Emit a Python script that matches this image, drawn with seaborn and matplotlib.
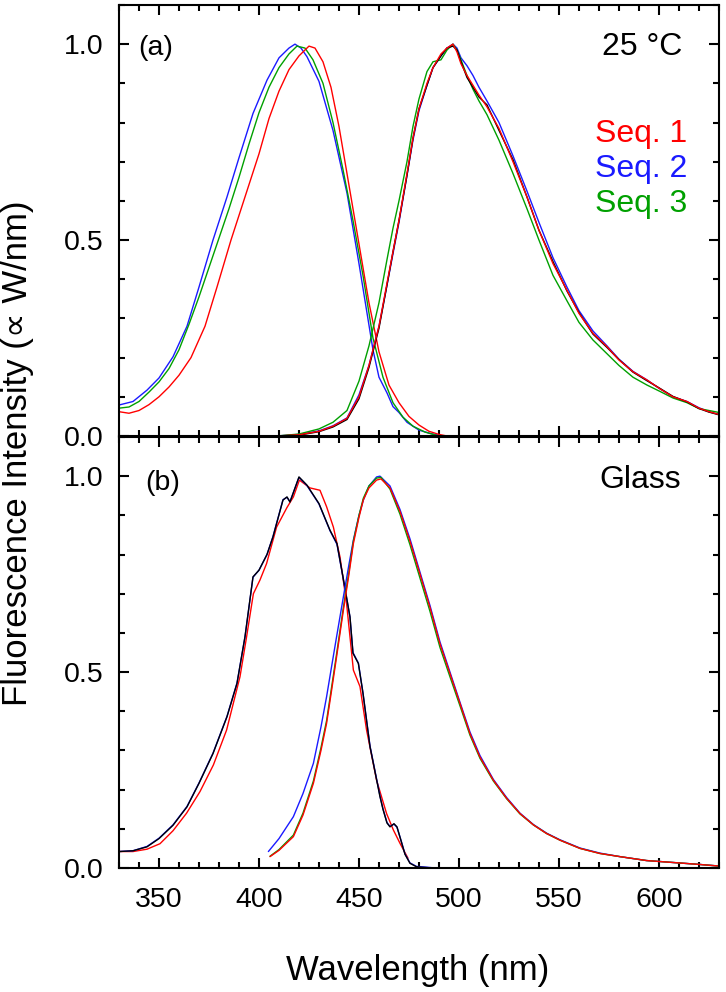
import matplotlib
matplotlib.use("Agg")
import matplotlib.pyplot as plt
import seaborn as sns
from matplotlib.ticker import MultipleLocator, FormatStrFormatter

sns.set_style("ticks", {'axes.edgecolor': 'black', 'text.color': 'black',
                        'xtick.color': 'black', 'ytick.color': 'black',
                        'axes.labelcolor': 'black'})
plt.rcParams['font.family'] = ['Liberation Sans', 'DejaVu Sans']

RED = '#ff0000'
BLUE = '#1a1aff'
GREEN = '#00a000'
BLACK = '#000000'

# ---- panel (a), 25 C : left band ----
wl_a_ex_blue = [330, 337, 344, 350, 357, 364, 370, 377, 384, 390, 397, 404, 410, 415, 418, 421, 424, 430, 437, 444, 450, 457, 460, 464, 467, 470, 474, 480, 486, 492]
a_ex_blue = [0.079, 0.088, 0.117, 0.148, 0.202, 0.28, 0.38, 0.50, 0.61, 0.71, 0.823, 0.908, 0.965, 0.99, 1.0, 0.99, 0.968, 0.905, 0.78, 0.62, 0.44, 0.22, 0.15, 0.11, 0.075, 0.06, 0.035, 0.015, 0.006, 0.0]

wl_a_ex_green = [330, 335, 340, 345, 350, 355, 360, 365, 370, 375, 380, 385, 390, 395, 400, 405, 410, 415, 419, 423, 427, 432, 437, 442, 447, 452, 457, 462, 467, 472, 477, 483, 490]
a_ex_green = [0.071, 0.074, 0.088, 0.112, 0.138, 0.172, 0.22, 0.285, 0.355, 0.43, 0.505, 0.58, 0.66, 0.745, 0.825, 0.89, 0.94, 0.975, 0.995, 0.99, 0.96, 0.90, 0.80, 0.68, 0.55, 0.41, 0.25, 0.15, 0.085, 0.048, 0.025, 0.01, 0.0]

wl_a_ex_red = [330, 335, 340, 345, 350, 355, 360, 366, 373, 379, 386, 393, 400, 405, 410, 415, 420, 425, 428, 432, 436, 440, 445, 450, 455, 460, 465, 470, 475, 480, 485, 490, 494]
a_ex_red = [0.062, 0.058, 0.065, 0.08, 0.10, 0.125, 0.155, 0.20, 0.28, 0.38, 0.50, 0.61, 0.72, 0.81, 0.88, 0.935, 0.97, 0.995, 0.99, 0.955, 0.89, 0.79, 0.64, 0.49, 0.34, 0.215, 0.13, 0.085, 0.05, 0.028, 0.012, 0.004, 0.0]

# ---- panel (a), 25 C : right band ----
wl_a_em = [409, 420, 430, 437, 444, 450, 455, 460, 464, 467, 470, 474, 477, 480, 484, 487, 491, 494, 497, 499, 501, 504, 507, 510, 514, 520, 527, 534, 540, 547, 554, 560, 567, 574, 580, 587, 594, 600, 607, 614, 620, 625, 630]
a_em_red = [0.0, 0.003, 0.012, 0.025, 0.045, 0.10, 0.18, 0.28, 0.39, 0.47, 0.55, 0.67, 0.76, 0.835, 0.90, 0.94, 0.975, 0.99, 1.0, 0.98, 0.95, 0.92, 0.895, 0.87, 0.84, 0.785, 0.70, 0.61, 0.525, 0.44, 0.372, 0.313, 0.262, 0.228, 0.194, 0.164, 0.143, 0.122, 0.10, 0.088, 0.071, 0.062, 0.055]
a_em_black = [0.0, 0.002, 0.011, 0.023, 0.042, 0.095, 0.175, 0.275, 0.385, 0.47, 0.55, 0.665, 0.76, 0.835, 0.895, 0.94, 0.97, 0.99, 0.995, 0.985, 0.955, 0.915, 0.89, 0.865, 0.845, 0.78, 0.705, 0.61, 0.525, 0.445, 0.37, 0.315, 0.26, 0.226, 0.195, 0.163, 0.141, 0.123, 0.101, 0.087, 0.07, 0.061, 0.054]
a_em_blue = [0.0, 0.004, 0.013, 0.026, 0.046, 0.105, 0.18, 0.28, 0.385, 0.465, 0.545, 0.665, 0.755, 0.83, 0.895, 0.94, 0.97, 0.99, 1.0, 0.99, 0.965, 0.945, 0.92, 0.89, 0.855, 0.80, 0.715, 0.625, 0.545, 0.455, 0.38, 0.32, 0.268, 0.23, 0.196, 0.165, 0.143, 0.122, 0.10, 0.088, 0.072, 0.062, 0.055]
a_em_green = [0.0, 0.005, 0.018, 0.035, 0.065, 0.14, 0.23, 0.34, 0.45, 0.53, 0.60, 0.70, 0.79, 0.86, 0.93, 0.955, 0.96, 0.985, 1.0, 0.985, 0.96, 0.92, 0.885, 0.855, 0.82, 0.755, 0.67, 0.58, 0.50, 0.41, 0.345, 0.29, 0.245, 0.21, 0.18, 0.15, 0.13, 0.115, 0.097, 0.085, 0.07, 0.065, 0.06]

# ---- panel (b), glass : left band ----
wl_b_ex_black = [330, 337, 344, 350, 357, 364, 370, 377, 384, 389, 393, 397, 400, 404, 407, 412, 414, 415.5, 420, 424, 430, 435.5, 439, 442, 445.5, 447, 449.7, 452, 455.5, 460.5, 462, 464, 465.5, 467.5, 469, 471, 473, 475.5, 478.8, 484, 488]
b_ex_black = [0.042, 0.044, 0.054, 0.075, 0.109, 0.156, 0.216, 0.292, 0.386, 0.471, 0.59, 0.743, 0.76, 0.80, 0.845, 0.939, 0.947, 0.934, 0.998, 0.977, 0.93, 0.862, 0.828, 0.743, 0.641, 0.548, 0.522, 0.446, 0.31, 0.182, 0.15, 0.115, 0.105, 0.113, 0.105, 0.07, 0.035, 0.012, 0.003, 0.001, 0.0]
b_ex_blue = [0.042, 0.044, 0.055, 0.076, 0.110, 0.157, 0.217, 0.293, 0.387, 0.472, 0.59, 0.742, 0.76, 0.80, 0.846, 0.94, 0.946, 0.935, 0.997, 0.976, 0.929, 0.861, 0.826, 0.742, 0.64, 0.55, 0.523, 0.447, 0.312, 0.184, 0.151, 0.116, 0.106, 0.112, 0.104, 0.071, 0.036, 0.013, 0.004, 0.002, 0.0]

wl_b_ex_red = [330, 337, 344, 350.5, 357, 363.8, 370.5, 377.2, 383.8, 390.5, 393.8, 397.2, 400.5, 403.8, 408.8, 414, 417.2, 420.2, 425.5, 430.5, 433.8, 437.2, 440.5, 443.8, 447.2, 450.5, 453.8, 458.8, 463.8, 467.2, 470.5, 474.5]
b_ex_red = [0.042, 0.042, 0.048, 0.062, 0.095, 0.14, 0.195, 0.263, 0.352, 0.488, 0.59, 0.70, 0.735, 0.777, 0.87, 0.92, 0.947, 0.99, 0.97, 0.964, 0.922, 0.87, 0.794, 0.675, 0.505, 0.463, 0.352, 0.224, 0.139, 0.097, 0.063, 0.025]

# ---- panel (b), glass : right band ----
wl_b_em_blue = [404.7, 410, 417.2, 422, 427.2, 431, 433.8, 436.5, 438.8, 442.2, 445, 447.2, 450, 452.2, 455, 458.8, 460.5, 465.5, 470.5, 475.5, 480.5, 485.5, 490.5, 495.5, 500.5, 505.5, 510.5, 517.2, 523.8, 530.5, 537.2, 543.8, 550.5, 560.5, 570.5, 580.5, 593.8, 607.2, 620.5, 630]
b_em_blue = [0.042, 0.075, 0.131, 0.19, 0.267, 0.36, 0.437, 0.52, 0.59, 0.692, 0.775, 0.837, 0.90, 0.939, 0.975, 0.998, 1.0, 0.975, 0.915, 0.84, 0.755, 0.67, 0.577, 0.50, 0.423, 0.347, 0.287, 0.226, 0.18, 0.14, 0.111, 0.089, 0.072, 0.051, 0.038, 0.029, 0.019, 0.014, 0.009, 0.005]

wl_b_em = [405.5, 410, 417.2, 422, 427.2, 431, 433.8, 436.5, 438.8, 442.2, 445, 447.2, 450, 452.2, 455, 458.8, 461, 465.5, 470.5, 475.5, 480.5, 485.5, 490.5, 495.5, 500.5, 505.5, 510.5, 517.2, 523.8, 530.5, 537.2, 543.8, 550.5, 560.5, 570.5, 580.5, 593.8, 607.2, 620.5, 630]
b_em_red = [0.029, 0.045, 0.08, 0.135, 0.216, 0.30, 0.369, 0.46, 0.539, 0.658, 0.75, 0.828, 0.895, 0.94, 0.97, 0.99, 0.993, 0.97, 0.91, 0.834, 0.75, 0.665, 0.572, 0.496, 0.42, 0.343, 0.283, 0.224, 0.178, 0.139, 0.11, 0.088, 0.071, 0.05, 0.037, 0.029, 0.019, 0.014, 0.009, 0.005]
b_em_green = [0.03, 0.047, 0.084, 0.14, 0.222, 0.307, 0.376, 0.468, 0.546, 0.665, 0.757, 0.834, 0.9, 0.944, 0.975, 0.995, 0.997, 0.967, 0.903, 0.825, 0.74, 0.655, 0.563, 0.488, 0.414, 0.339, 0.28, 0.222, 0.177, 0.138, 0.11, 0.088, 0.071, 0.05, 0.037, 0.029, 0.019, 0.014, 0.009, 0.005]

seq_labels = ['Seq. 1', 'Seq. 2', 'Seq. 3']
seq_colors = [RED, BLUE, GREEN]

fig = plt.figure(figsize=(7.26, 9.92), dpi=100)
ax_a = fig.add_axes([0.1639, 0.5605, 0.8264, 0.4345])
ax_b = fig.add_axes([0.1639, 0.1250, 0.8264, 0.4345])


def draw(ax, x, y, color):
    sns.lineplot(x=x, y=y, ax=ax, color=color, lw=1.0, sort=False, estimator=None)


# panel (a)
draw(ax_a, wl_a_ex_blue, a_ex_blue, BLUE)
draw(ax_a, wl_a_ex_green, a_ex_green, GREEN)
draw(ax_a, wl_a_ex_red, a_ex_red, RED)
draw(ax_a, wl_a_em, a_em_blue, BLUE)
draw(ax_a, wl_a_em, a_em_green, GREEN)
draw(ax_a, wl_a_em, a_em_black, BLACK)
draw(ax_a, wl_a_em, a_em_red, RED)

# panel (b)
draw(ax_b, wl_b_ex_red, b_ex_red, RED)
draw(ax_b, wl_b_ex_black, b_ex_blue, BLUE)
draw(ax_b, wl_b_ex_black, b_ex_black, BLACK)
draw(ax_b, wl_b_em_blue, b_em_blue, BLUE)
draw(ax_b, wl_b_em, b_em_green, GREEN)
draw(ax_b, wl_b_em, b_em_red, RED)

for ax in (ax_a, ax_b):
    ax.set_xlim(330, 630)
    ax.set_ylim(0, 1.1)
    ax.xaxis.set_major_locator(MultipleLocator(50))
    ax.xaxis.set_minor_locator(MultipleLocator(10))
    ax.yaxis.set_major_locator(MultipleLocator(0.5))
    ax.yaxis.set_minor_locator(MultipleLocator(0.1))
    ax.yaxis.set_major_formatter(FormatStrFormatter('%.1f'))
    ax.tick_params(which='both', direction='in', top=True, right=True, width=1.5,
                   labelsize=20.5, color='black', labelcolor='black')
    ax.tick_params(which='major', length=7)
    ax.tick_params(which='minor', length=4)
    ax.tick_params(axis='x', pad=14)
    ax.tick_params(axis='y', pad=11)
    ax.set_xlabel('')
    ax.set_ylabel('')
    for s in ax.spines.values():
        s.set_linewidth(1.5)
        s.set_color('black')

ax_a.tick_params(axis='x', labelbottom=False)

ax_a.text(339.5, 0.972, '(a)', fontsize=20.5, color='black', ha='left', va='baseline')
ax_a.text(611.5, 0.972, '25 °C', fontsize=23, color='black', ha='right', va='baseline')
for lab, col, yy in zip(seq_labels, seq_colors, [0.75, 0.661, 0.572]):
    ax_a.text(568, yy, lab, color=col, fontsize=23, ha='left', va='baseline')

ax_b.text(343, 0.965, '(b)', fontsize=20.5, color='black', ha='left', va='baseline')
ax_b.text(611, 0.969, 'Glass', fontsize=23, color='black', ha='right', va='baseline')

fig.text(0.5758, 0.0121, 'Wavelength (nm)', fontsize=25, color='black', ha='center', va='baseline')
fig.text(0.002, 0.543, 'Fluorescence Intensity (\u221d W/nm)', fontsize=25, color='black',
         rotation=90, ha='left', va='center')

fig.savefig('out.png', dpi=100)
